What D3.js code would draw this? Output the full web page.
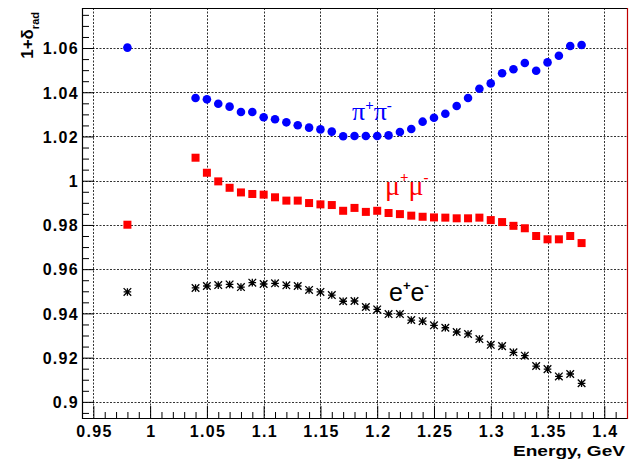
<!DOCTYPE html>
<html>
<head>
<meta charset="utf-8">
<script src="https://cdn.jsdelivr.net/npm/d3@7/dist/d3.min.js"></script>
<style>
  html, body { margin: 0; padding: 0; background: #fff; }
  svg { display: block; }
  .ticklab { font-family: "Liberation Sans", Arial, sans-serif; font-weight: bold; font-size: 16px; letter-spacing: 1.3px; fill: #000; }
</style>
</head>
<body>
<svg id="chart" width="640" height="465"></svg>
<script>
// Beam energies (GeV)
const energies = [0.98, 1.04, 1.05, 1.06, 1.07, 1.08, 1.09, 1.10, 1.11, 1.12, 1.13, 1.14,
  1.15, 1.16, 1.17, 1.18, 1.19, 1.20, 1.21, 1.22, 1.23, 1.24, 1.25, 1.26, 1.27, 1.28,
  1.29, 1.30, 1.31, 1.32, 1.33, 1.34, 1.35, 1.36, 1.37, 1.38];

// Radiative correction 1+delta_rad for each final state
const pipi = [1.0602, 1.0374, 1.0368, 1.0348, 1.0335, 1.0311, 1.0311, 1.0287, 1.0278, 1.0264,
  1.0251, 1.0240, 1.0232, 1.0222, 1.0201, 1.0202, 1.0202, 1.0202, 1.0205, 1.0220, 1.0234,
  1.0267, 1.0285, 1.0303, 1.0338, 1.0374, 1.0416, 1.0440, 1.0486, 1.0504, 1.0532, 1.0497,
  1.0535, 1.0565, 1.0609, 1.0614];
const mumu = [0.9801, 1.0104, 1.0036, 0.9997, 0.9968, 0.9947, 0.9940, 0.9937, 0.9925, 0.9910,
  0.9910, 0.9899, 0.9893, 0.9890, 0.9864, 0.9877, 0.9859, 0.9864, 0.9854, 0.9849, 0.9842,
  0.9837, 0.9834, 0.9833, 0.9830, 0.9830, 0.9833, 0.9822, 0.9813, 0.9796, 0.9785, 0.9750,
  0.9735, 0.9735, 0.9750, 0.9718];
const ee = [0.9497, 0.9515, 0.9524, 0.9528, 0.9531, 0.9519, 0.9539, 0.9533, 0.9536, 0.9527,
  0.9524, 0.9506, 0.9497, 0.9483, 0.9455, 0.9456, 0.9429, 0.9418, 0.9397, 0.9397, 0.9370,
  0.9365, 0.9346, 0.9335, 0.9316, 0.9307, 0.9284, 0.9258, 0.9252, 0.9224, 0.9209, 0.9162,
  0.9148, 0.9115, 0.9126, 0.9084];

// Axis ticks and their labels
const xTicks = [0.95, 1.0, 1.05, 1.1, 1.15, 1.2, 1.25, 1.3, 1.35, 1.4];
const xTickLabels = ["0.95", "1", "1.05", "1.1", "1.15", "1.2", "1.25", "1.3", "1.35", "1.4"];
const yTicks = [0.90, 0.92, 0.94, 0.96, 0.98, 1.00, 1.02, 1.04, 1.06];
const yTickLabels = ["0.9", "0.92", "0.94", "0.96", "0.98", "1", "1.02", "1.04", "1.06"];

const svg = d3.select("#chart");
const L = 82, R = 627, T = 8, B = 418;

const x = d3.scaleLinear().domain([0.94, 1.42]).range([L, R]);
const y = d3.scaleLinear().domain([0.8927, 1.0781]).range([B, T]);

// minor tick positions (every 0.01 in x, 0.005 in y)
const xMinor = d3.range(95, 142).map(i => i / 100).filter(v => !xTicks.some(t => Math.abs(t - v) < 1e-9));
const yMinor = d3.range(179, 216).map(i => i / 200).filter(v => !yTicks.some(t => Math.abs(t - v) < 1e-9));

// grid
const grid = svg.append("g").attr("stroke", "#333").attr("stroke-width", 1).attr("stroke-dasharray", "2,1.5");
grid.selectAll(".gx").data(xTicks).join("line")
  .attr("x1", d => Math.round(x(d)) + 0.5).attr("x2", d => Math.round(x(d)) + 0.5)
  .attr("y1", T).attr("y2", B);
grid.selectAll(".gy").data(yTicks).join("line")
  .attr("y1", d => Math.round(y(d)) + 0.5).attr("y2", d => Math.round(y(d)) + 0.5)
  .attr("x1", L).attr("x2", R);

// x axis: ticks pointing into the frame
const xAxisMajor = svg.append("g").attr("transform", `translate(0,${B})`)
  .call(d3.axisBottom(x).tickValues(xTicks).tickSize(-12).tickSizeOuter(0)
    .tickFormat((d, i) => xTickLabels[i]));
const xAxisMinor = svg.append("g").attr("transform", `translate(0,${B})`)
  .call(d3.axisBottom(x).tickValues(xMinor).tickSize(-6).tickSizeOuter(0).tickFormat(""));
xAxisMajor.selectAll("text").attr("class", "ticklab").attr("y", 0).attr("dy", 0)
  .attr("transform", "translate(0.6,19)");

// y axis
const yAxisMajor = svg.append("g").attr("transform", `translate(${L},0)`)
  .call(d3.axisLeft(y).tickValues(yTicks).tickSize(-12).tickSizeOuter(0)
    .tickFormat((d, i) => yTickLabels[i]));
const yAxisMinor = svg.append("g").attr("transform", `translate(${L},0)`)
  .call(d3.axisLeft(y).tickValues(yMinor).tickSize(-7).tickSizeOuter(0).tickFormat(""));
yAxisMajor.selectAll("text").attr("class", "ticklab").attr("x", -3).attr("dy", "0.36em");

[xAxisMajor, xAxisMinor, yAxisMajor, yAxisMinor].forEach(g => {
  g.select(".domain").remove();
  g.selectAll(".tick line").attr("stroke", "#000").attr("stroke-width", 1);
});

// frame
svg.append("path").attr("fill", "none").attr("stroke", "#000").attr("stroke-width", 1.2)
  .attr("d", `M${R},${T + 0.5}H${L + 0.5}V${B + 0.5}H${R}`);
svg.append("line").attr("x1", R + 0.5).attr("x2", R + 0.5).attr("y1", T).attr("y2", B + 1)
  .attr("stroke", "#c00000").attr("stroke-width", 1.2);

// axis titles
svg.append("text")
  .attr("x", R - 2).attr("y", 456).attr("text-anchor", "end")
  .attr("font-family", "Liberation Sans, Arial, sans-serif").attr("font-weight", "bold")
  .attr("font-size", 15).attr("textLength", 112).attr("lengthAdjust", "spacingAndGlyphs")
  .text("Energy, GeV");

const yt = svg.append("text")
  .attr("transform", "translate(33,12) rotate(-90)")
  .attr("text-anchor", "end")
  .attr("font-family", "Liberation Sans, Arial, sans-serif").attr("font-weight", "bold")
  .attr("font-size", 17);
yt.append("tspan").text("1+δ");
yt.append("tspan").attr("font-size", 11).attr("dy", 6).text("rad");

// markers
const pts = (vals) => energies.map((e, i) => ({ e, v: vals[i] }));

svg.append("g").selectAll("circle").data(pts(pipi)).join("circle")
  .attr("cx", d => x(d.e)).attr("cy", d => y(d.v)).attr("r", 4.3)
  .attr("fill", "#0000ff");

svg.append("g").selectAll("rect").data(pts(mumu)).join("rect")
  .attr("x", d => x(d.e) - 4).attr("y", d => y(d.v) - 4)
  .attr("width", 8).attr("height", 8).attr("fill", "#ff0000");

const s = 3.8;
const star = `M${-s},0H${s}M0,${-s}V${s}M${-s},${-s}L${s},${s}M${-s},${s}L${s},${-s}`;
svg.append("g").selectAll("path").data(pts(ee)).join("path")
  .attr("transform", d => `translate(${x(d.e)},${y(d.v)})`)
  .attr("d", star).attr("fill", "none").attr("stroke", "#000").attr("stroke-width", 1.3);

// curve labels
function particleLabel(px, py, sym, color, family, size, weight, supDy, supSize) {
  const t = svg.append("text").attr("x", px).attr("y", py)
    .attr("font-family", family).attr("font-size", size).attr("font-weight", weight)
    .attr("fill", color);
  t.append("tspan").text(sym);
  t.append("tspan").attr("font-size", supSize).attr("font-weight", "bold").attr("dy", supDy).text("+");
  t.append("tspan").attr("dy", -supDy).text(sym);
  t.append("tspan").attr("font-size", supSize).attr("font-weight", "bold").attr("dy", supDy).text("-");
}
particleLabel(352, 120, "π", "#0000ff", "Liberation Serif, Times New Roman, serif", 26, "normal", -10, 15);
particleLabel(385, 195, "μ", "#ff0000", "Liberation Serif, Times New Roman, serif", 28, "normal", -13, 15);
particleLabel(389, 301, "e", "#000", "Liberation Sans, Arial, sans-serif", 25, "normal", -11, 13);
</script>
</body>
</html>
